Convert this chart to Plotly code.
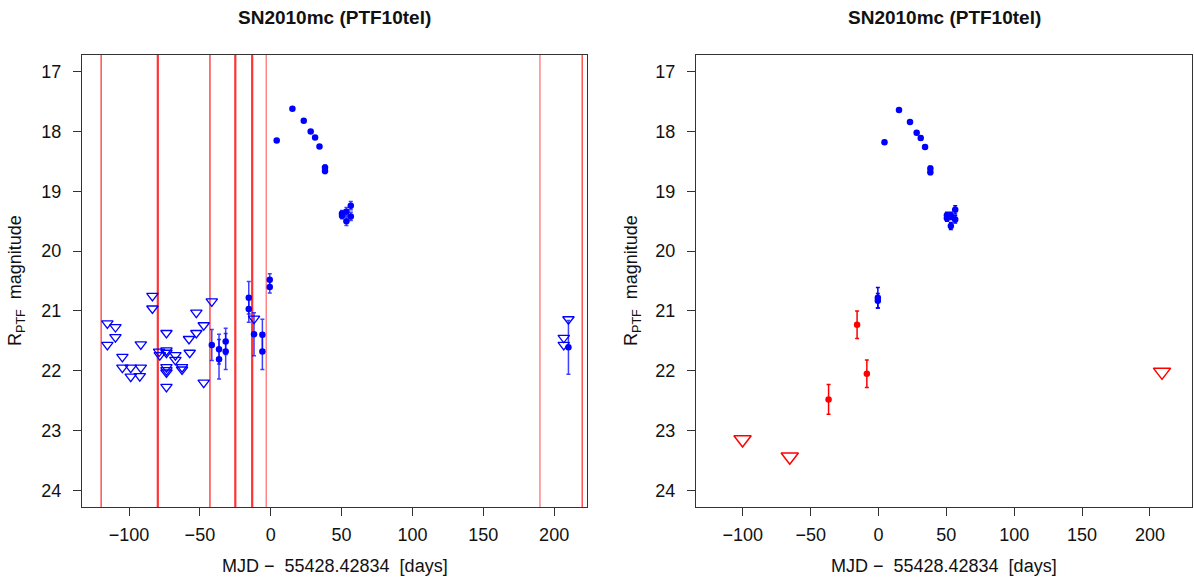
import plotly.graph_objects as go

# ---------------- data ----------------
# Left panel: upper limits (open blue triangles)
lim_left_t = [-115.3, -115.3, -109.6, -109.6, -104.7, -104.7, -98.8, -98.8, -91.7, -92.4,
              -91.7, -83.5, -83.5, -78.8, -78.3, -73.6, -73.6, -73.6, -73.6, -73.6,
              -73.6, -73.6, -67.3, -67.3, -62.6, -62.6, -57.7, -57.2, -52.5, -52.5,
              -47.3, -47.3, -41.6, -11.8, 206.8, 206.8, 210.1]
lim_left_mag = [21.21, 21.57, 21.27, 21.44, 21.77, 21.95, 21.95, 22.10, 21.95, 22.09,
                21.56, 20.75, 20.96, 21.68, 21.74, 21.37, 21.66, 21.70, 21.94, 21.99,
                22.03, 22.27, 21.74, 21.82, 21.94, 21.98, 21.47, 21.70, 21.03, 21.37,
                21.24, 22.20, 20.84, 21.13, 21.45, 21.57, 21.14]

# Left panel: detections (blue dots)
det_left_t = [-41.6, -36.5, -36.5, -31.8, -31.8, -15.5, -15.5, -11.8, -5.9, -5.9,
              -0.7, -0.7, 4.2, 15.3, 23.3, 28.2, 31.3, 34.4, 38.3, 38.3,
              50.3, 50.3, 53.4, 53.4, 56.5, 56.5, 210.1]
det_left_mag = [21.57, 21.64, 21.81, 21.51, 21.68, 20.78, 20.97, 21.39, 21.40, 21.68,
                20.48, 20.60, 18.15, 17.62, 17.82, 18.00, 18.10, 18.25, 18.60, 18.66,
                19.37, 19.41, 19.34, 19.50, 19.24, 19.42, 21.61]
det_left_err = [0.26, 0.25, 0.33, 0.22, 0.30, 0.27, 0.22, 0.36, 0.26, 0.30,
                0.10, 0.10, 0.03, 0.02, 0.02, 0.03, 0.03, 0.03, 0.04, 0.04,
                0.05, 0.05, 0.07, 0.07, 0.07, 0.07, 0.45]

# Left panel: vertical red lines (epochs)
vlines_t = [-119.7, -79.7, -42.9, -25.0, -13.1, -3.2, 190.0, 219.8]
vlines_w = [1.2, 2.2, 1.2, 2.2, 2.2, 1.2, 1.2, 1.2]
vlines_c = ["rgba(255,0,0,0.85)", "rgba(255,0,0,0.8)", "rgba(255,0,0,0.9)",
            "rgba(255,0,0,0.8)", "rgba(255,0,0,0.8)", "rgba(255,40,40,0.7)",
            "rgba(255,40,40,0.7)", "rgba(255,0,0,0.85)"]

# Right panel: detections (blue)
det_right_t = [-0.5, -0.5, 4.4, 15.1, 23.2, 28.1, 31.1, 34.3, 38.2, 38.2,
               50.4, 50.4, 53.3, 53.3, 56.5, 56.5]
det_right_mag = [20.78, 20.83, 18.18, 17.64, 17.84, 18.02, 18.11, 18.26, 18.62, 18.68,
                 19.40, 19.45, 19.41, 19.58, 19.31, 19.47]
det_right_err = [0.17, 0.12, 0.03, 0.02, 0.02, 0.03, 0.03, 0.03, 0.04, 0.04,
                 0.05, 0.05, 0.06, 0.06, 0.07, 0.06]

# Right panel: red detections and upper limits
red_t = [-36.8, -15.8, -8.6]
red_mag = [22.48, 21.23, 22.05]
red_err = [0.25, 0.23, 0.23]
red_lim_t = [-100.2, -65.4, 208.9]
red_lim_mag = [23.15, 23.44, 22.02]

NB = "\u00a0"
title_text = "SN2010mc (PTF10tel)"
xlabel = "MJD \u2212" + NB + NB + "55428.42834" + NB + NB + "[days]"
ylabel = "R<sub>PTF</sub>" + NB + NB + "magnitude"
xticks = [-100, -50, 0, 50, 100, 150, 200]
yticks = [17, 18, 19, 20, 21, 22, 23, 24]

BLUE = "#0000ff"
RED = "#ff0000"
FONT = "Liberation Sans, Arial, sans-serif"
LABEL_SIZE = 18
TITLE_SIZE = 19

W, H = 1194, 580
fig = go.Figure()

# vertical lines (left panel)
for t, w, c in zip(vlines_t, vlines_w, vlines_c):
    fig.add_shape(type="line", xref="x", yref="y domain", x0=t, x1=t, y0=0, y1=1,
                  line=dict(color=c, width=w), layer="below")

fig.add_trace(go.Scatter(x=lim_left_t, y=lim_left_mag, mode="markers",
                         marker=dict(symbol="triangle-down-open", size=10, color=BLUE,
                                     line=dict(width=1.3, color=BLUE)),
                         xaxis="x", yaxis="y", showlegend=False))
fig.add_trace(go.Scatter(x=det_left_t, y=det_left_mag, mode="markers",
                         error_y=dict(type="data", array=det_left_err, color="rgba(0,0,255,0.75)",
                                      thickness=1.5, width=2),
                         marker=dict(symbol="circle", size=6.5, color=BLUE),
                         xaxis="x", yaxis="y", showlegend=False))

fig.add_trace(go.Scatter(x=red_lim_t, y=red_lim_mag, mode="markers",
                         marker=dict(symbol="triangle-down-open", size=15, color=RED,
                                     line=dict(width=1.5, color=RED)),
                         xaxis="x2", yaxis="y2", showlegend=False))
fig.add_trace(go.Scatter(x=red_t, y=red_mag, mode="markers",
                         error_y=dict(type="data", array=red_err, color=RED,
                                      thickness=1.5, width=2),
                         marker=dict(symbol="circle", size=6.5, color=RED),
                         xaxis="x2", yaxis="y2", showlegend=False))
fig.add_trace(go.Scatter(x=det_right_t, y=det_right_mag, mode="markers",
                         error_y=dict(type="data", array=det_right_err, color=BLUE,
                                      thickness=1.5, width=2),
                         marker=dict(symbol="circle", size=6.5, color=BLUE),
                         xaxis="x2", yaxis="y2", showlegend=False))

# geometry (pixels)
L1, R1 = 82, 587
L2, R2 = 696, 1192
TOP, BOT = 55, 507

def px(x):
    return x / W

def py(y):
    return 1 - y / H

axis_common = dict(showline=True, linecolor="#333", linewidth=1, mirror=True,
                   ticks="outside", ticklen=8, tickcolor="#333", tickwidth=1,
                   showgrid=False, zeroline=False,
                   tickfont=dict(family=FONT, size=LABEL_SIZE, color="#111"))

fig.update_layout(
    width=W, height=H, plot_bgcolor="white", paper_bgcolor="white",
    margin=dict(l=0, r=0, t=0, b=0),
    xaxis=dict(domain=[px(L1), px(R1)], range=[-133.2, 223.2], tickvals=xticks,
               anchor="y", ticklabelstandoff=3, **axis_common),
    yaxis=dict(domain=[py(BOT), py(TOP)], range=[24.28, 16.72], tickvals=yticks,
               anchor="x", ticklabelstandoff=8, **axis_common),
    xaxis2=dict(domain=[px(L2), px(R2)], range=[-134.5, 231.0], tickvals=xticks,
                anchor="y2", ticklabelstandoff=3, **axis_common),
    yaxis2=dict(domain=[py(BOT), py(TOP)], range=[24.28, 16.72], tickvals=yticks,
                anchor="x2", ticklabelstandoff=8, **axis_common),
    font=dict(family=FONT),
)

ann = []
for cx, lx in [((L1 + R1) / 2, 16), ((L2 + R2) / 2, 632)]:
    ann.append(dict(text="<b>" + title_text + "</b>", x=px(cx), y=py(18), xref="paper",
                    yref="paper", showarrow=False, xanchor="center", yanchor="middle",
                    font=dict(family=FONT, size=TITLE_SIZE, color="#111")))
    ann.append(dict(text=xlabel, x=px(cx), y=py(566), xref="paper", yref="paper",
                    showarrow=False, xanchor="center", yanchor="middle",
                    font=dict(family=FONT, size=LABEL_SIZE, color="#111")))
    ann.append(dict(text=ylabel, x=px(lx), y=py((TOP + BOT) / 2), xref="paper",
                    yref="paper", showarrow=False, textangle=-90, xanchor="center",
                    yanchor="middle", font=dict(family=FONT, size=LABEL_SIZE, color="#111")))
fig.update_layout(annotations=ann)

fig.write_html("out.html", config={"displayModeBar": False},
               post_script="document.body.style.margin='0';document.body.style.overflow='hidden';")
